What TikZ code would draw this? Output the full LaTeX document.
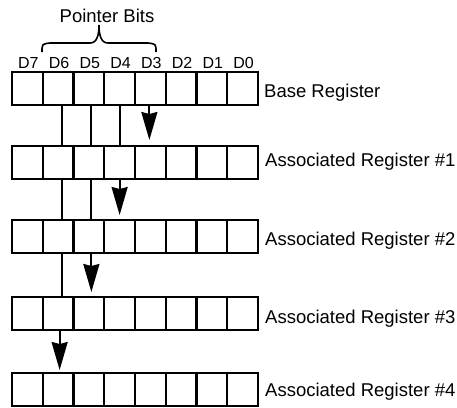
\documentclass[tikz,border=0pt]{standalone}
\usepackage{fontspec}
\setmainfont{Liberation Sans}
\usetikzlibrary{arrows.meta}
\begin{document}
\begin{tikzpicture}[x=1bp,y=-1bp,
  cell/.style={draw,line width=2.4bp,minimum width=30.75bp,minimum height=33bp,inner sep=0pt,outer sep=0pt},
  link/.style={line width=2bp},
  ptr/.style={line width=2bp,-{Stealth[length=28bp,width=16bp,inset=2bp]}},
  bitlbl/.style={font=\fontsize{16bp}{18bp}\selectfont,anchor=base,inner sep=0pt},
  reglbl/.style={font=\fontsize{18.5bp}{22bp}\selectfont,anchor=base west,inner sep=0pt},
  bracepath/.style={line width=1.6bp},
]
\useasboundingbox (0,0) rectangle (457,407);
% registers
\foreach \r/\t in {0/72,1/146,2/220,3/297,4/373}{
  \foreach \k in {0,...,7}{
    \pgfmathtruncatemacro\b{7-\k}
    \node[cell] (r\r b\b) at ({12+30.75*(\k+0.5)},{\t+16.5}) {};
  }
}
% bit labels
\foreach \k in {0,...,7}{
  \pgfmathtruncatemacro\b{7-\k}
  \node[bitlbl] (d\b) at ({12+30.75*(\k+0.5)+1},68) {D\b};
}
% pointer bits label and brace
\node[reglbl,anchor=base] (ptrlbl) at (107,22) {Pointer Bits};
\draw[bracepath] (42,52) .. controls (42,44) .. (50,43) -- (90,43)
  .. controls (97,43) and (99,35) .. (99,25)
  .. controls (99,35) and (101,43) .. (108,43) -- (148,43)
  .. controls (156,44) .. (156,52);
% register labels
\node[reglbl] (l0) at (264,97) {Base Register};
\node[reglbl] (l1) at (265,166) {Associated Register \#1};
\node[reglbl] (l2) at (265,245) {Associated Register \#2};
\node[reglbl] (l3) at (265,323) {Associated Register \#3};
\node[reglbl] (l4) at (265,396.5) {Associated Register \#4};
% base -> reg1
\draw[link] ([xshift=3.5bp]r0b6.south) -- ([xshift=3.5bp]r1b6.north);
\draw[link] ([xshift=2.5bp]r0b5.south) -- ([xshift=2.5bp]r1b5.north);
\draw[link] (r0b4.south) -- (r1b4.north);
\draw[ptr] ([xshift=-1bp]r0b3.south) -- ([xshift=-1bp,yshift=6bp]r1b3.north);
% reg1 -> reg2
\draw[link] ([xshift=3.5bp]r1b6.south) -- ([xshift=3.5bp]r2b6.north);
\draw[link] ([xshift=2.5bp]r1b5.south) -- ([xshift=2.5bp]r2b5.north);
\draw[ptr] (r1b4.south) -- ([yshift=5bp]r2b4.north);
% reg2 -> reg3
\draw[link] ([xshift=3.5bp]r2b6.south) -- ([xshift=3.5bp]r3b6.north);
\draw[ptr] ([xshift=2.5bp]r2b5.south) -- ([xshift=2.5bp,yshift=5bp]r3b5.north);
% reg3 -> reg4
\draw[ptr] ([xshift=1.5bp]r3b6.south) -- ([xshift=1.5bp,yshift=3bp]r4b6.north);
\end{tikzpicture}
\end{document}
